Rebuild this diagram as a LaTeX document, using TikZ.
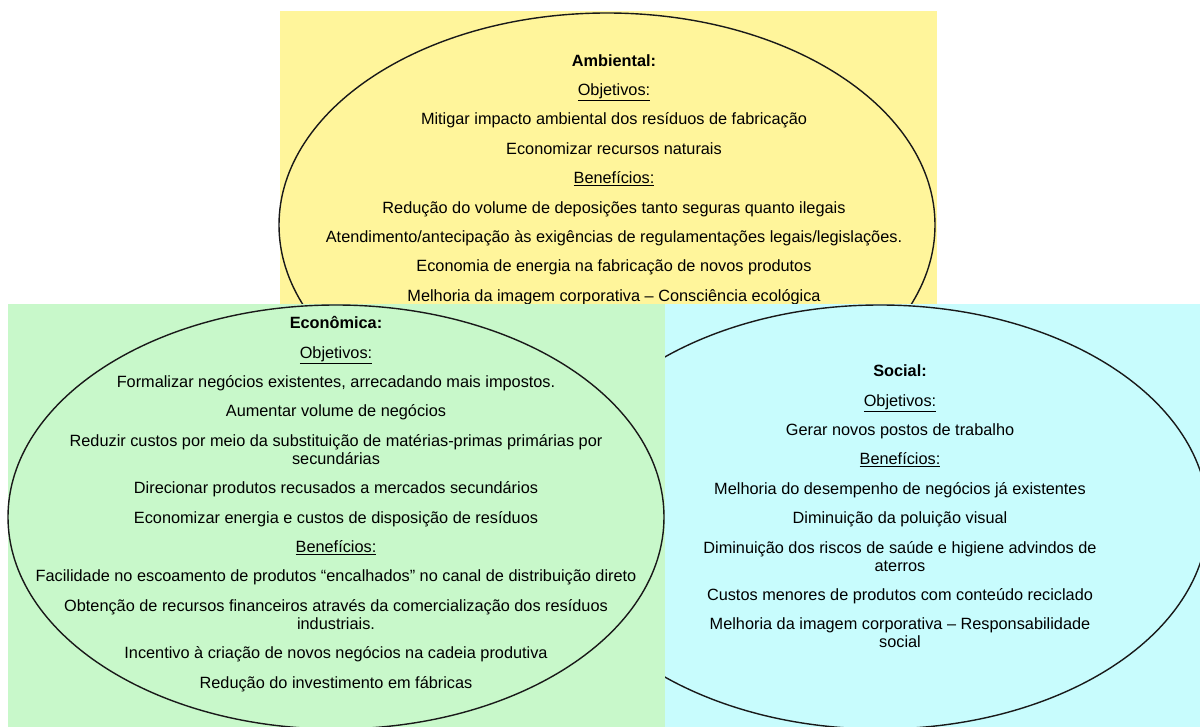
\documentclass[tikz,border=0pt]{standalone}
\usepackage{fontspec}
\setmainfont{Liberation Sans}
\usetikzlibrary{positioning}
\definecolor{amarelo}{HTML}{FFF59B}
\definecolor{verde}{HTML}{C8F8CA}
\definecolor{ciano}{HTML}{C8FCFD}
\tikzset{elipse/.style={draw=black!90,line width=1.4pt},
  bloco/.style={align=center,inner sep=0pt,font=\fontsize{16.3}{18}\selectfont}}
\newcommand{\itemgap}{\\[11.4pt]}

\begin{document}
\begin{tikzpicture}[x=1pt,y=-1pt]
\useasboundingbox (0,0) rectangle (1200,727);
% ambiental
\fill[amarelo] (280,11) rectangle (937,305);
\draw[elipse] (607,225) ellipse [x radius=328,y radius=212];
\node[bloco] (amb) at (614,179.5) {\textbf{Ambiental:}\itemgap
  \underline{Objetivos:}\itemgap
  Mitigar impacto ambiental dos resíduos de fabricação\itemgap
  Economizar recursos naturais\itemgap
  \underline{Benefícios:}\itemgap
  Redução do volume de deposições tanto seguras quanto ilegais\itemgap
  Atendimento/antecipação às exigências de regulamentações legais/legislações.\itemgap
  Economia de energia na fabricação de novos produtos\itemgap
  Melhoria da imagem corporativa – Consciência ecológica};
% economica
\fill[verde] (8,304) rectangle (665,727);
\draw[elipse] (336,517) ellipse [x radius=328,y radius=212];
\node[bloco] (eco) at (336,504) {\textbf{Econômica:}\itemgap
  \underline{Objetivos:}\itemgap
  Formalizar negócios existentes, arrecadando mais impostos.\itemgap
  Aumentar volume de negócios\itemgap
  Reduzir custos por meio da substituição de matérias-primas primárias por\\
  secundárias\itemgap
  Direcionar produtos recusados a mercados secundários\itemgap
  Economizar energia e custos de disposição de resíduos\itemgap
  \underline{Benefícios:}\itemgap
  Facilidade no escoamento de produtos “encalhados” no canal de distribuição direto\itemgap
  Obtenção de recursos financeiros através da comercialização dos resíduos\\
  industriais.\itemgap
  Incentivo à criação de novos negócios na cadeia produtiva\itemgap
  Redução do investimento em fábricas};
% social
\fill[ciano] (665,304) rectangle (1200,727);
\begin{scope}
\clip (665,304) rectangle (1200,727);
\draw[elipse] (880,517) ellipse [x radius=328,y radius=212];
\end{scope}
\node[bloco] (soc) at (900,506.5) {\textbf{Social:}\itemgap
  \underline{Objetivos:}\itemgap
  Gerar novos postos de trabalho\itemgap
  \underline{Benefícios:}\itemgap
  Melhoria do desempenho de negócios já existentes\itemgap
  Diminuição da poluição visual\itemgap
  Diminuição dos riscos de saúde e higiene advindos de\\
  aterros\itemgap
  Custos menores de produtos com conteúdo reciclado\itemgap
  Melhoria da imagem corporativa – Responsabilidade\\
  social};
\end{tikzpicture}
\end{document}
